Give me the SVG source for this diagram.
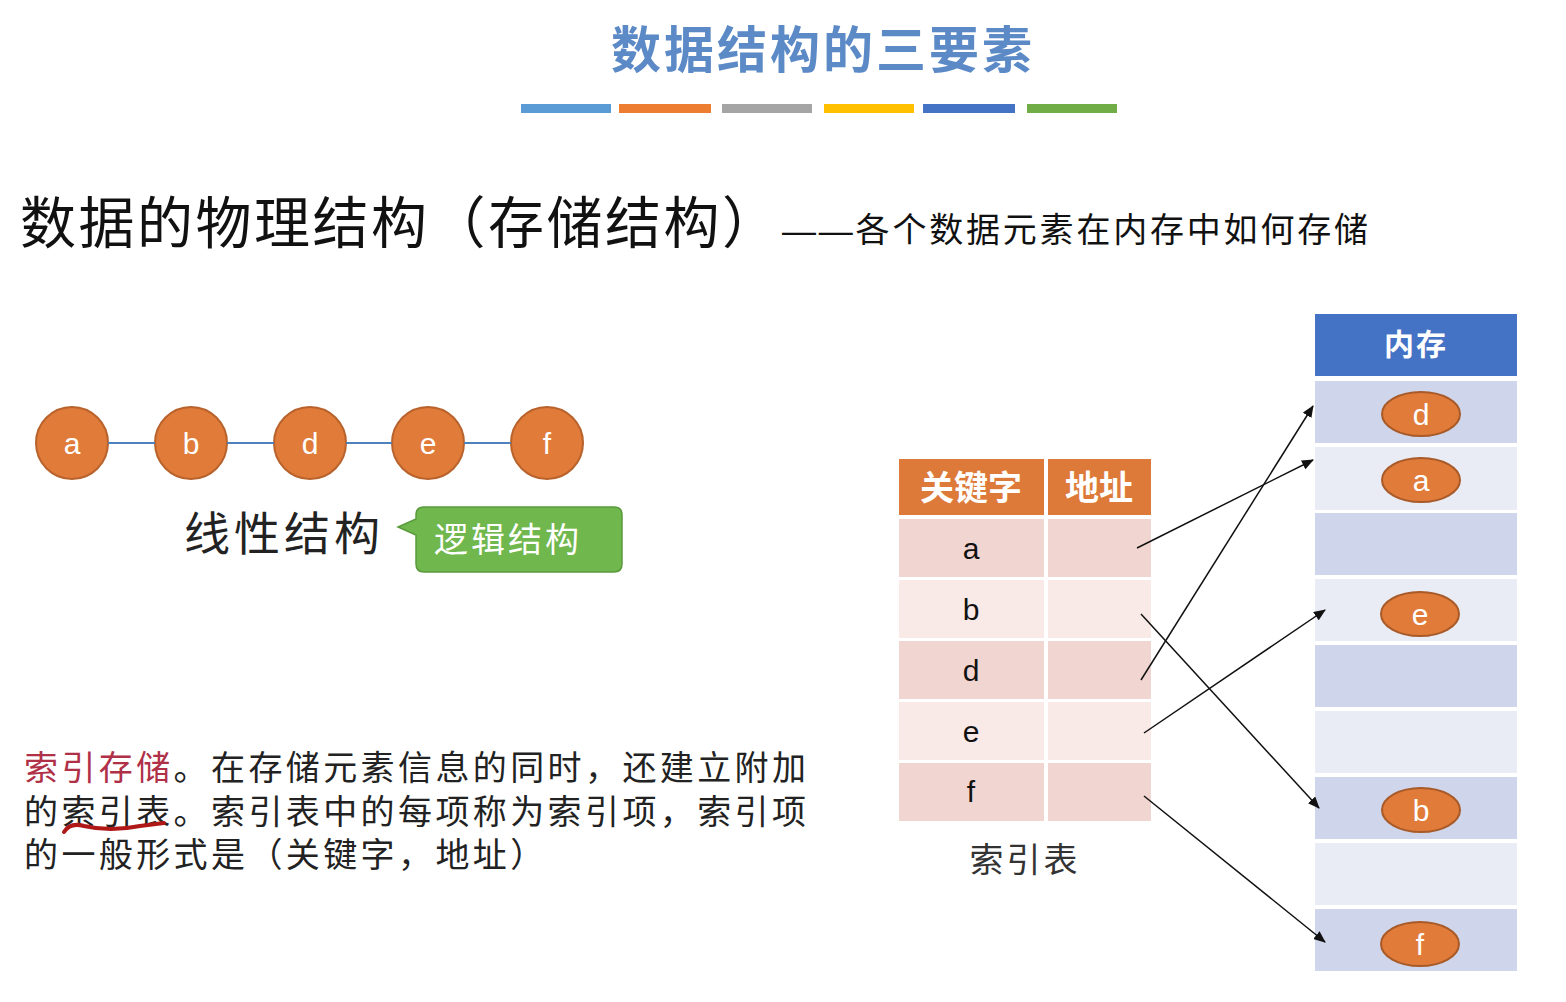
<svg xmlns="http://www.w3.org/2000/svg" width="1566" height="1002" viewBox="0 0 1566 1002">
<style>
.cn{font-family:"Liberation Sans","Noto Sans CJK SC",sans-serif}
.node circle{fill:#e07b3a;stroke:#b8622c;stroke-width:2}
.node text,.mem text{fill:#fff;font-size:30px;text-anchor:middle;font-family:"Liberation Sans","Noto Sans CJK SC",sans-serif}
.mem ellipse{fill:#e07b3a;stroke:#a85a28;stroke-width:2}
.rowA{fill:#f1d5d0}.rowB{fill:#f9e9e7}
.mA{fill:#cfd5ea}.mB{fill:#e9ebf5}
.tl{font-size:30px;text-anchor:middle;fill:#111}
.arr{stroke:#111;stroke-width:1.5;fill:none;marker-end:url(#ah)}
</style>
<defs><marker id="ah" markerWidth="12" markerHeight="10" refX="11" refY="5" orient="auto" markerUnits="userSpaceOnUse"><path d="M0,0 L12,5 L0,10 z" fill="#111"/></marker></defs>
<rect width="1566" height="1002" fill="#fff"/>
<text class="cn" x="823" y="68" font-size="50" fill="#5b8ac7" text-anchor="middle" font-weight="bold" letter-spacing="3">数据结构的三要素</text>
<g>
<rect x="521" y="104" width="90" height="9" fill="#5b9bd5"/>
<rect x="619" y="104" width="92" height="9" fill="#ed7d31"/>
<rect x="722" y="104" width="90" height="9" fill="#a5a5a5"/>
<rect x="824" y="104" width="90" height="9" fill="#ffc000"/>
<rect x="923" y="104" width="92" height="9" fill="#4472c4"/>
<rect x="1027" y="104" width="90" height="9" fill="#70ad47"/>
</g>
<text class="cn" x="20" y="243" font-size="56" fill="#111" letter-spacing="2.5">数据的物理结构（存储结构）</text>
<text class="cn" x="782" y="242" font-size="34" fill="#111" letter-spacing="2.8">——各个数据元素在内存中如何存储</text>
<g id="n-a" class="node"><circle cx="72" cy="443" r="36"/><text x="72" y="454">a</text></g>
<g id="n-b" class="node"><circle cx="191" cy="443" r="36"/><text x="191" y="454">b</text></g>
<g id="n-d" class="node"><circle cx="310" cy="443" r="36"/><text x="310" y="454">d</text></g>
<g id="n-e" class="node"><circle cx="428" cy="443" r="36"/><text x="428" y="454">e</text></g>
<g id="n-f" class="node"><circle cx="547" cy="443" r="36"/><text x="547" y="454">f</text></g>
<text class="cn" x="184" y="550" font-size="46" fill="#222" letter-spacing="4">线性结构</text>
<g id="callout">
<path d="M424,507 H614 Q622,507 622,515 V564 Q622,572 614,572 H424 Q416,572 416,564 V535 L398,527 L416,519 V515 Q416,507 424,507 Z" fill="#70b74e" stroke="#5a9a3c" stroke-width="1.5"/>
<text class="cn" x="434" y="552" font-size="34" fill="#fff" letter-spacing="3">逻辑结构</text>
</g>
<g id="index-table" class="cn">
<rect x="899" y="459" width="145" height="56" fill="#dd7a3a"/>
<rect x="1048" y="459" width="103" height="56" fill="#dd7a3a"/>
<text x="971" y="500" font-size="34" fill="#fff" text-anchor="middle" font-weight="bold">关键字</text>
<text x="1099" y="500" font-size="34" fill="#fff" text-anchor="middle" font-weight="bold">地址</text>
<rect class="rowA" x="899" y="519" width="145" height="58"/><rect class="rowA" x="1048" y="519" width="103" height="58"/>
<rect class="rowB" x="899" y="580" width="145" height="58"/><rect class="rowB" x="1048" y="580" width="103" height="58"/>
<rect class="rowA" x="899" y="641" width="145" height="58"/><rect class="rowA" x="1048" y="641" width="103" height="58"/>
<rect class="rowB" x="899" y="702" width="145" height="58"/><rect class="rowB" x="1048" y="702" width="103" height="58"/>
<rect class="rowA" x="899" y="763" width="145" height="58"/><rect class="rowA" x="1048" y="763" width="103" height="58"/>
<text class="tl" x="971" y="559">a</text>
<text class="tl" x="971" y="620">b</text>
<text class="tl" x="971" y="681">d</text>
<text class="tl" x="971" y="742">e</text>
<text class="tl" x="971" y="802">f</text>
<text x="1025" y="872" font-size="34" fill="#333" text-anchor="middle" letter-spacing="3">索引表</text>
</g>
<g id="memory" class="mem">
<rect x="1315" y="314" width="202" height="62" fill="#4472c4"/>
<text x="1416" y="355" font-size="34" font-weight="bold" letter-spacing="2">内存</text>
<rect class="mA" x="1315" y="381" width="202" height="62"/>
<rect class="mB" x="1315" y="447" width="202" height="63"/>
<rect class="mA" x="1315" y="513" width="202" height="62"/>
<rect class="mB" x="1315" y="579" width="202" height="62"/>
<rect class="mA" x="1315" y="645" width="202" height="62"/>
<rect class="mB" x="1315" y="711" width="202" height="62"/>
<rect class="mA" x="1315" y="777" width="202" height="62"/>
<rect class="mB" x="1315" y="843" width="202" height="62"/>
<rect class="mA" x="1315" y="909" width="202" height="62"/>
<g id="m-d"><ellipse cx="1421" cy="414" rx="39" ry="22"/><text x="1421" y="425">d</text></g>
<g id="m-a"><ellipse cx="1421" cy="480" rx="39" ry="22"/><text x="1421" y="491">a</text></g>
<g id="m-e"><ellipse cx="1420" cy="614" rx="39" ry="22"/><text x="1420" y="625">e</text></g>
<g id="m-b"><ellipse cx="1421" cy="810" rx="39" ry="22"/><text x="1421" y="821">b</text></g>
<g id="m-f"><ellipse cx="1420" cy="944" rx="39" ry="22"/><text x="1420" y="955">f</text></g>
</g>
<g id="connectors">
<line x1="108" y1="443" x2="155" y2="443" stroke="#4f81bd" stroke-width="2"/>
<line x1="227" y1="443" x2="274" y2="443" stroke="#4f81bd" stroke-width="2"/>
<line x1="346" y1="443" x2="392" y2="443" stroke="#4f81bd" stroke-width="2"/>
<line x1="464" y1="443" x2="511" y2="443" stroke="#4f81bd" stroke-width="2"/>
<line class="arr" x1="1137" y1="548" x2="1313" y2="460"/>
<line class="arr" x1="1141" y1="680" x2="1313" y2="406"/>
<line class="arr" x1="1144" y1="733" x2="1325" y2="610"/>
<line class="arr" x1="1141" y1="614" x2="1319" y2="808"/>
<line class="arr" x1="1144" y1="796" x2="1325" y2="942"/>
</g>
<g class="cn" font-size="34" fill="#222" letter-spacing="3.4">
<text x="24" y="780"><tspan fill="#b03048">索引存储</tspan>。在存储元素信息的同时，还建立附加</text>
<text x="24" y="824">的索引表。索引表中的每项称为索引项，索引项</text>
<text x="24" y="867">的一般形式是（关键字，地址）</text>
</g>
<path d="M64,832 Q70,822 84,826 Q110,832 140,826 L164,823" stroke="#b01818" stroke-width="4" fill="none" stroke-linecap="round"/>
</svg>
